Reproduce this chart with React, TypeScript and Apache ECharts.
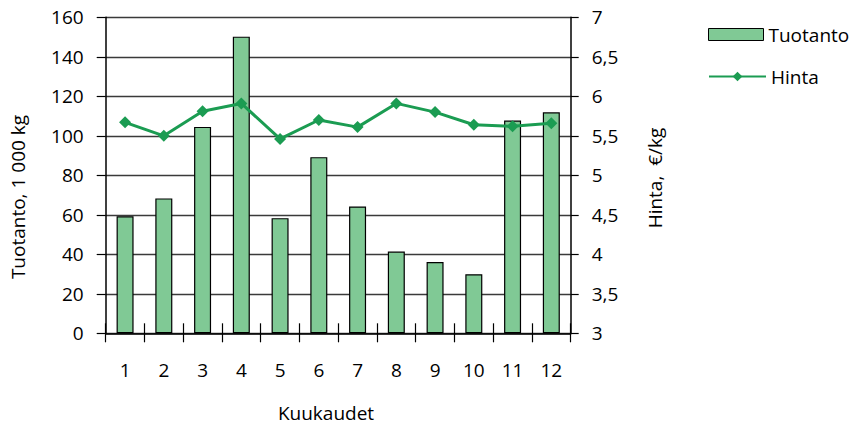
import React, { useEffect, useRef } from "react";
import * as echarts from "echarts";

const months = ["1", "2", "3", "4", "5", "6", "7", "8", "9", "10", "11", "12"];
const tuotanto = [59.3, 68.3, 104.5, 150.2, 58.3, 89.2, 64.2, 41.4, 36.1, 29.9, 107.7, 111.9];
const hinta = [5.67, 5.5, 5.81, 5.91, 5.46, 5.7, 5.61, 5.91, 5.8, 5.64, 5.62, 5.66];

const FONT = "'Open Sans', 'Noto Sans', sans-serif";
const BAR_FILL = "#80c995";
const LINE_COL = "#1b9c52";

export default function App() {
  const ref = useRef<HTMLDivElement>(null);
  useEffect(() => {
    if (!ref.current) return;
    const chart = echarts.init(ref.current, undefined, { renderer: "svg" });
    const grid = { left: 105.7, right: 289.3, top: 17.3, bottom: 93.7 };
    chart.setOption({
      animation: false,
      textStyle: { fontFamily: FONT, color: "#000" },
      grid,
      legend: [
        {
          data: [{ name: "Tuotanto", icon: "rect" }],
          left: 703,
          top: 20,
          itemWidth: 55,
          itemHeight: 12,
          itemGap: 0,
          itemStyle: { borderWidth: 1, borderColor: "#000" },
          textStyle: { fontFamily: FONT, fontSize: 19, color: "#000" },
        },
        {
          data: ["Hinta"],
          left: 703,
          top: 62,
          itemWidth: 57,
          itemHeight: 12,
          textStyle: { fontFamily: FONT, fontSize: 19, color: "#000" },
        },
      ],
      xAxis: [
        {
          type: "category",
          data: months,
          boundaryGap: true,
          axisLine: { show: true, lineStyle: { color: "#000", width: 1.5 } },
          axisTick: { show: true, length: 9, lineStyle: { color: "#000", width: 1.2 } },
          axisLabel: { fontFamily: FONT, fontSize: 19, color: "#000", margin: 27 },
          splitLine: { show: false },
        },
        {
          type: "category",
          data: months,
          position: "bottom",
          boundaryGap: true,
          axisLine: { show: false },
          axisTick: { show: true, inside: true, length: 10, lineStyle: { color: "#000", width: 1.2 } },
          axisLabel: { show: false },
          splitLine: { show: false },
        },
      ],
      yAxis: [
        {
          type: "value",
          min: 0,
          max: 160,
          interval: 20,
          axisLine: { show: true, lineStyle: { color: "#000", width: 1.5 } },
          axisTick: { show: true, length: 9, lineStyle: { color: "#000", width: 1.2 } },
          axisLabel: { fontFamily: FONT, fontSize: 19, color: "#000", margin: 22 },
          splitLine: { show: true, lineStyle: { color: "#3a3a3a", width: 1.3 } },
        },
        {
          type: "value",
          min: 3,
          max: 7,
          interval: 0.5,
          position: "right",
          axisLine: { show: true, lineStyle: { color: "#000", width: 1.5 } },
          axisTick: { show: true, length: 8, lineStyle: { color: "#000", width: 1.2 } },
          axisLabel: {
            fontFamily: FONT,
            fontSize: 19,
            color: "#000",
            margin: 21,
            formatter: (v: number) => String(v).replace(".", ","),
          },
          splitLine: { show: false },
        },
      ],
      series: [
        {
          name: "Tuotanto",
          type: "bar",
          data: tuotanto,
          barWidth: 17,
          xAxisIndex: 0,
          yAxisIndex: 0,
          itemStyle: { color: BAR_FILL, borderColor: "#000", borderWidth: 1.2 },
        },
        {
          name: "Hinta",
          type: "line",
          data: hinta,
          xAxisIndex: 0,
          yAxisIndex: 1,
          symbol: "diamond",
          symbolSize: 12,
          lineStyle: { color: LINE_COL, width: 3 },
          itemStyle: { color: LINE_COL },
        },
      ],
      graphic: [
        {
          type: "text",
          x: 18,
          y: 197,
          rotation: Math.PI / 2,
          style: {
            text: "Tuotanto, 1 000 kg",
            font: `19px ${FONT}`,
            fill: "#000",
            align: "center",
            verticalAlign: "middle",
          },
        },
        {
          type: "text",
          x: 655,
          y: 178,
          rotation: Math.PI / 2,
          style: {
            text: "Hinta,  €/kg",
            font: `19px ${FONT}`,
            fill: "#000",
            align: "center",
            verticalAlign: "middle",
          },
        },
        {
          type: "text",
          x: 326,
          y: 413,
          style: {
            text: "Kuukaudet",
            font: `19px ${FONT}`,
            lineHeight: 20,
            fill: "#000",
            align: "center",
            verticalAlign: "middle",
          },
        },
      ],
    });
    return () => chart.dispose();
  }, []);
  return (
    <div
      ref={ref}
      style={{ position: "fixed", left: 0, top: 0, width: 860, height: 427, background: "#fff" }}
    />
  );
}
